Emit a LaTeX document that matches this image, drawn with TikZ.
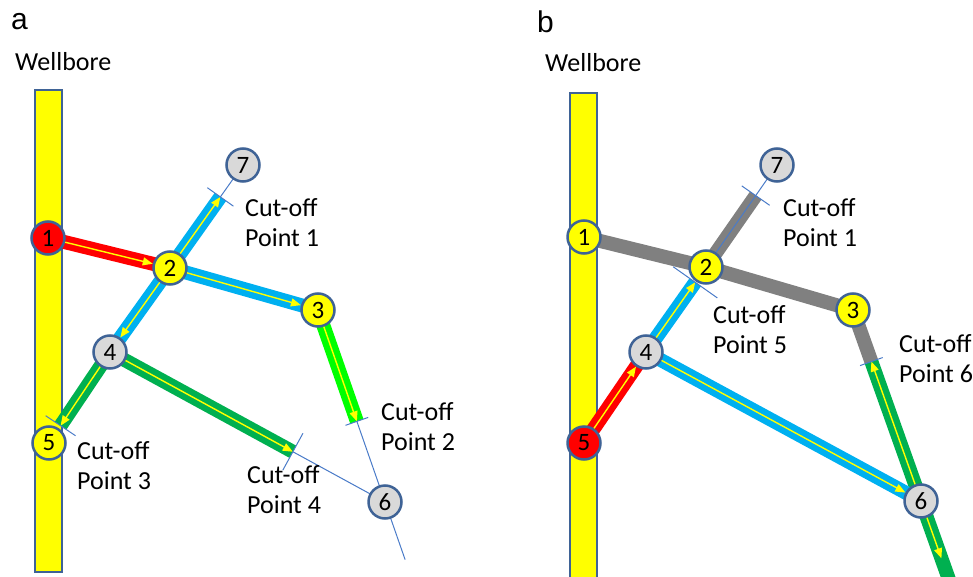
\documentclass[tikz,border=0pt]{standalone}
\usepackage{fontspec}
\setmainfont{Carlito}
\newfontfamily\panelfont{Liberation Sans}
\usetikzlibrary{calc,arrows.meta}

\definecolor{wellyellow}{HTML}{FFFF00}
\definecolor{rim}{HTML}{3F6396}
\definecolor{jgray}{HTML}{D9D9D9}
\definecolor{pipered}{HTML}{FF0000}
\definecolor{pipeblue}{HTML}{00B0F0}
\definecolor{pipegreen}{HTML}{00B050}
\definecolor{pipelime}{HTML}{00FF00}
\definecolor{pipegray}{HTML}{808080}
\definecolor{flowyellow}{HTML}{FFFF00}
\definecolor{thinblue}{HTML}{4A7BC8}

\begin{document}
\begin{tikzpicture}[x=1pt,y=-1pt,
  every node/.style={font=\fontsize{26}{30}\selectfont},
  pipe/.style={line width=14pt},
  flow/.style={draw=flowyellow, line width=1.4pt, -{Triangle[length=10pt,width=8pt]}},
  guide/.style={draw=thinblue, line width=1pt},
  well/.style={fill=wellyellow, draw=rim, line width=2pt},
  junction/.style={circle, draw=rim, line width=2.5pt, minimum size=33pt,
    inner sep=0pt, font=\fontsize{25}{25}\selectfont},
  jy/.style={junction, fill=wellyellow},
  jr/.style={junction, fill=pipered},
  jg/.style={junction, fill=jgray},
  cutlabel/.style={anchor=west, align=left, inner sep=0pt},
  panellabel/.style={inner sep=0pt, font=\panelfont\fontsize{30}{30}\selectfont},
]
\useasboundingbox (0,0) rectangle (973,577);
\clip (0,0) rectangle (973,577);

% ---------------- panel a ----------------
\draw[well] (35,90) rectangle (62,572);

\coordinate (pa1) at (48,238);
\coordinate (pa2) at (170,268);
\coordinate (pa3) at (318,310);
\coordinate (pa4) at (110,352);
\coordinate (pa5) at (49,443);
\coordinate (pa6) at (385,502);
\coordinate (pa7) at (243,165);

\coordinate (ca1) at ($(pa2)!0.69!(pa7)$);
\coordinate (ca2) at ($(pa3)!0.58!(pa6)$);
\coordinate (ca3) at ($(pa4)!0.81!(pa5)$);
\coordinate (ca4) at ($(pa4)!0.665!(pa6)$);
\coordinate (ea) at ($(pa3)!1.3!(pa6)$);

\draw[pipe, draw=pipeblue] (pa2) -- (ca1);
\draw[pipe, draw=pipeblue] (pa2) -- (pa3);
\draw[pipe, draw=pipeblue] (pa2) -- (pa4);
\draw[pipe, draw=pipegreen] (pa4) -- (ca3);
\draw[pipe, draw=pipegreen] (pa4) -- (ca4);
\draw[pipe, draw=pipelime] (pa3) -- (ca2);
\draw[pipe, draw=pipered] (pa1) -- (pa2);

\draw[guide] (ca1) -- (pa7);
\draw[guide] (ca4) -- (pa6);
\draw[guide] (ca2) -- (ea);

\node[jr] (na1) at (pa1) {1};
\node[jy] (na2) at (pa2) {2};
\node[jy] (na3) at (pa3) {3};
\node[jg] (na4) at (pa4) {4};
\node[jy] (na5) at (pa5) {5};
\node[jg] (na6) at (pa6) {6};
\node[jg] (na7) at (pa7) {7};

\draw[flow] (na1) -- (na2);
\draw[flow] (na2) -- (ca1);
\draw[flow] (na2) -- (na3);
\draw[flow] (na2) -- (na4);
\draw[flow] (na4) -- (ca3);
\draw[flow] (na4) -- (ca4);
\draw[flow] (na3) -- (ca2);

\draw[guide] ($(ca1)!16pt!90:(pa7)$) -- ($(ca1)!16pt!-90:(pa7)$);
\draw[guide] ($(ca2)!12pt!90:(pa6)$) -- ($(ca2)!12pt!-90:(pa6)$);
\draw[guide] ($(ca3)!18pt!90:(pa5)$) -- ($(ca3)!18pt!-90:(pa5)$);
\draw[guide] ($(ca4)!21pt!90:(pa6)$) -- ($(ca4)!21pt!-90:(pa6)$);

\node[panellabel] (ta) at (19.5,22) {a};
\node[anchor=west, inner sep=0pt] (wa) at (15,62) {Wellbore};
\node[cutlabel] (la1) at (245,223) {Cut-off\\Point 1};
\node[cutlabel] (la2) at (381,427) {Cut-off\\Point 2};
\node[cutlabel] (la3) at (77,466) {Cut-off\\Point 3};
\node[cutlabel] (la4) at (247,490) {Cut-off\\Point 4};

% ---------------- panel b ----------------
\draw[well] (570,93) rectangle (597,600);

\coordinate (pb1) at (584,237);
\coordinate (pb2) at (706,267);
\coordinate (pb3) at (853,310);
\coordinate (pb4) at (646,352);
\coordinate (pb5) at (584,443);
\coordinate (pb6) at (921,501);
\coordinate (pb7) at (777,165);

\coordinate (cb1) at ($(pb2)!0.7!(pb7)$);
\coordinate (cb5) at ($(pb4)!0.82!(pb2)$);
\coordinate (cb6) at ($(pb3)!0.27!(pb6)$);
\coordinate (eb) at ($(pb3)!1.42!(pb6)$);
\coordinate (fb) at ($(pb3)!1.3!(pb6)$);

\draw[pipe, draw=pipegray] (pb1) -- (pb2);
\draw[pipe, draw=pipegray] (pb2) -- (pb3);
\draw[pipe, draw=pipegray] (pb2) -- (cb1);
\draw[pipe, draw=pipegray] (pb3) -- (cb6);
\draw[pipe, draw=pipegreen] (cb6) -- (eb);
\draw[pipe, draw=pipeblue] (pb4) -- (cb5);
\draw[pipe, draw=pipeblue] (pb4) -- (pb6);
\draw[pipe, draw=pipered] (pb5) -- (pb4);

\draw[guide] (pb2) -- (pb7);

\node[jy] (nb1) at (pb1) {1};
\node[jy] (nb2) at (pb2) {2};
\node[jy] (nb3) at (pb3) {3};
\node[jg] (nb4) at (pb4) {4};
\node[jr] (nb5) at (pb5) {5};
\node[jg] (nb6) at (pb6) {6};
\node[jg] (nb7) at (pb7) {7};

\draw[flow] (nb5) -- (nb4);
\draw[flow] (nb4) -- (cb5);
\draw[flow] (nb4) -- (nb6);
\draw[flow] (nb6) -- (cb6);
\draw[flow] (nb6) -- (fb);

\draw[guide] ($(cb1)!17pt!90:(pb7)$) -- ($(cb1)!17pt!-90:(pb7)$);
\draw[guide] ($(cb5)!27pt!90:(pb2)$) -- ($(cb5)!27pt!-90:(pb2)$);
\draw[guide] ($(cb6)!12pt!90:(pb6)$) -- ($(cb6)!12pt!-90:(pb6)$);

\node[panellabel] (tb) at (545.5,22) {b};
\node[anchor=west, inner sep=0pt] (wb) at (545,63) {Wellbore};
\node[cutlabel] (lb1) at (783,223) {Cut-off\\Point 1};
\node[cutlabel] (lb5) at (713,330) {Cut-off\\Point 5};
\node[cutlabel] (lb6) at (899,359) {Cut-off\\Point 6};
\end{tikzpicture}
\end{document}
